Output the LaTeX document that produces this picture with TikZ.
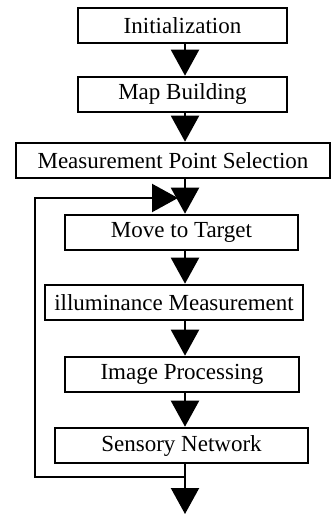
\documentclass[tikz,border=0pt]{standalone}
\usepackage{fontspec}
\setmainfont{Liberation Serif}
\usetikzlibrary{arrows.meta}
\begin{document}
\begin{tikzpicture}[x=1pt,y=-1pt,
  box/.style={draw,line width=2.6pt,rectangle,inner sep=0pt,minimum height=35pt,font=\fontsize{23}{23}\selectfont},
  arr/.style={line width=2.2pt,-{Triangle[width=28pt,length=26pt]}},
  ln/.style={line width=2.2pt}]
\useasboundingbox (0,0) rectangle (331,518);
\node[box,minimum width=209pt] (init) at (182.5,25.5) {Initialization};
\node[box,minimum width=209pt] (map) at (182.5,94.5) {Map Building};
\node[box,minimum width=314pt] (mps) at (173,160.5) {Measurement Point Selection};
\node[box,minimum width=233pt] (move) at (181.5,232.5) {Move to Target};
\node[box,minimum width=258pt] (illum) at (174,302.5) {illuminance Measurement};
\node[box,minimum width=234pt] (img) at (182,374.5) {Image Processing};
\node[box,minimum width=253pt] (sens) at (181.5,445.5) {Sensory Network};
\coordinate (ax) at (185,0);
\coordinate (j) at (185,477);
\coordinate (bl) at (35,477);
\coordinate (tl) at (35,198);
\coordinate (tip) at (178,198);
\coordinate (end) at (185,514);
\draw[arr] (init.south -| ax) -- (map.north -| ax);
\draw[arr] (map.south -| ax) -- (mps.north -| ax);
\draw[arr] (mps.south -| ax) -- (move.north -| ax);
\draw[arr] (move.south -| ax) -- (illum.north -| ax);
\draw[arr] (illum.south -| ax) -- (img.north -| ax);
\draw[arr] (img.south -| ax) -- (sens.north -| ax);
\draw[ln] (sens.south -| ax) -- (j);
\draw[arr] (j) -- (bl) -- (tl) -- (tip);
\draw[arr] (j) -- (end);
\end{tikzpicture}
\end{document}
